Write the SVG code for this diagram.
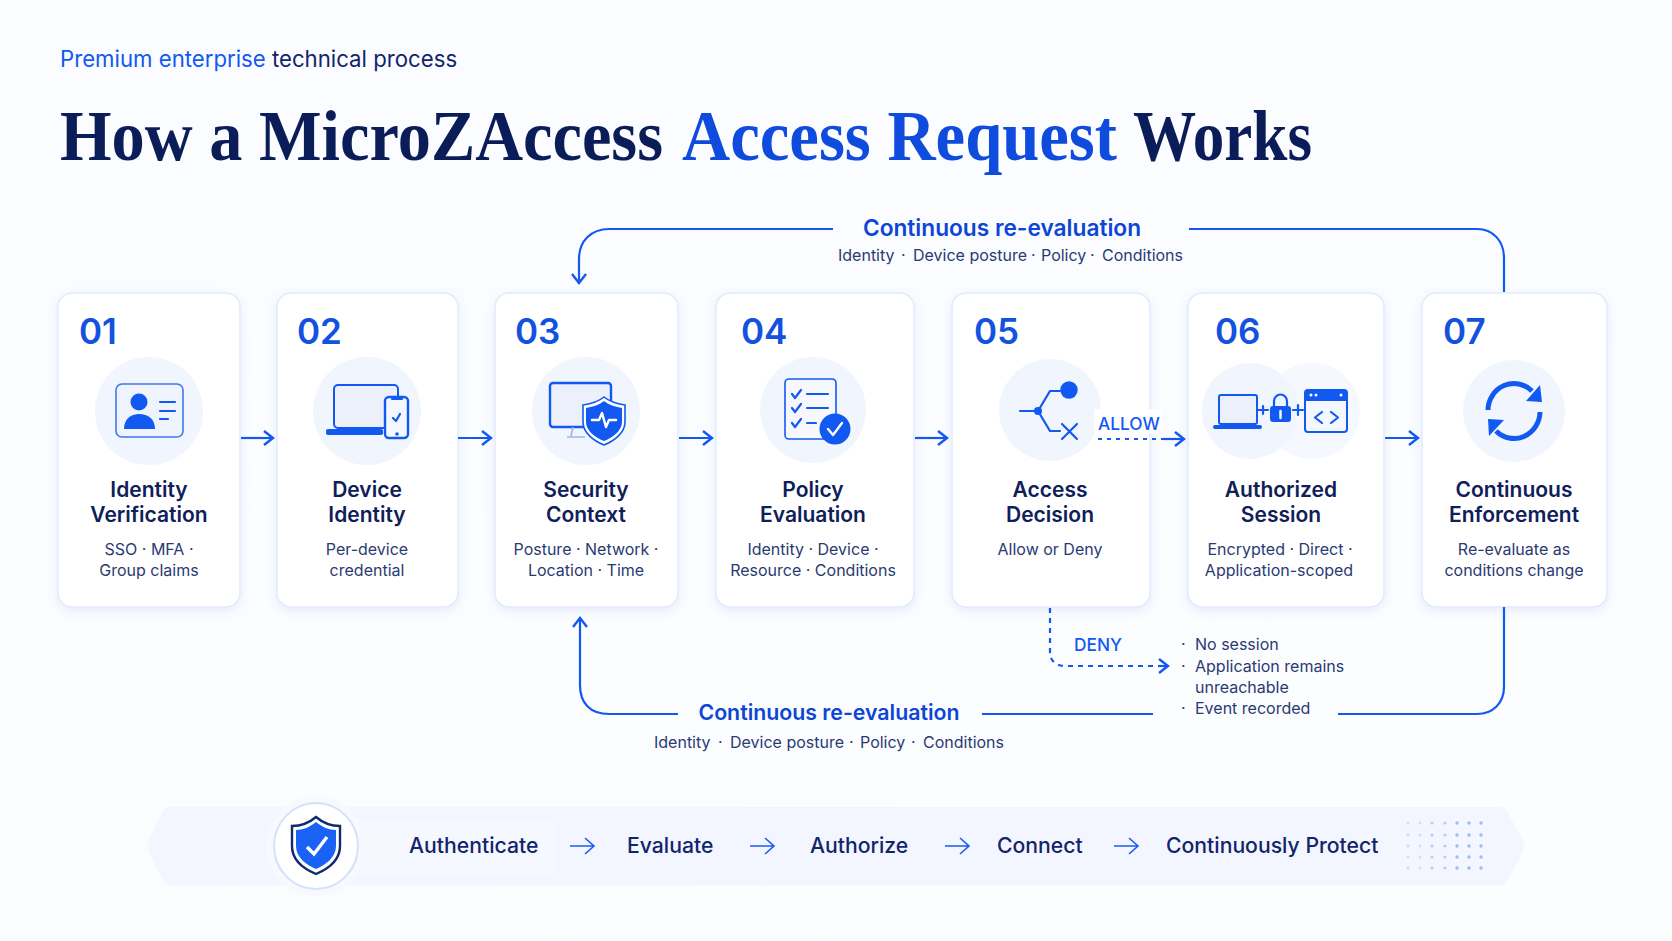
<svg xmlns="http://www.w3.org/2000/svg" width="1672" height="941" viewBox="0 0 1672 941">
<style>
text{font-family:Inter,"Noto Sans","Liberation Sans",sans-serif}
.hd{font-family:"Liberation Serif",serif;font-weight:700;font-size:72px;fill:#0b1d58}
.card{fill:#fff;stroke:#e2eafb;stroke-width:1.5;filter:url(#sh)}
.disc{fill:#f1f5fd}
.num{font-size:35px;font-weight:600;fill:#1351e0}
.ttl{font-size:21px;font-weight:600;fill:#0f2059;text-anchor:middle}
.sub{font-size:16px;fill:#2a3a72;text-anchor:middle}
.ln{fill:none;stroke:#1259f2;stroke-width:2.2}
.ic{fill:none;stroke:#1259f2;stroke-width:2.2;stroke-linecap:round;stroke-linejoin:round}
.scr{fill:#ebf0fa;stroke:#1259f2;stroke-width:2}
.f{fill:#1259f2}
.w{fill:none;stroke:#fff;stroke-width:2.4;stroke-linecap:round;stroke-linejoin:round}
.loop{font-size:22.7px;font-weight:600;fill:#0d46d6;text-anchor:middle}
.loop2{font-size:21.3px;font-weight:600;fill:#0d46d6;text-anchor:middle}
.note{font-size:16px;fill:#2a3a72}
.tag{font-size:17.3px;font-weight:500;fill:#1259f2}
.st{font-size:21.2px;font-weight:500;fill:#12246a}
.ar{fill:none;stroke:#1a5cf0;stroke-width:1.6}
</style>
<defs>
<linearGradient id="bg" x1="0" y1="0" x2="1" y2="1"><stop offset="0" stop-color="#fbfcff"/><stop offset="1" stop-color="#fcfdff"/></linearGradient>
<linearGradient id="ul" x1="0" x2="1" y1="0" y2="0"><stop offset="0" stop-color="#1259f2"/><stop offset="1" stop-color="#7fa6f7"/></linearGradient>
<filter id="sh" x="-15%" y="-10%" width="130%" height="120%"><feDropShadow dx="0" dy="3" stdDeviation="5" flood-color="#5b83e0" flood-opacity=".14"/></filter>
<marker id="ah" viewBox="0 0 14 16" refX="12" refY="8" markerWidth="14" markerHeight="16" markerUnits="userSpaceOnUse" orient="auto"><path d="M3 1 L12 8 L3 15" fill="none" stroke="#1259f2" stroke-width="2.4"/></marker>
</defs>
<rect width="1672" height="941" fill="url(#bg)"/>

<g id="header">
<text x="60" y="67" font-size="22.2" fill="#1259f2">Premium enterprise <tspan fill="#12246a">technical process</tspan></text>
<line x1="61" y1="88" x2="131" y2="88" stroke="url(#ul)" stroke-width="2.5"/>
<text class="hd" x="60" y="160" textLength="603" lengthAdjust="spacingAndGlyphs">How a MicroZAccess</text>
<text class="hd" x="682" y="160" textLength="435" lengthAdjust="spacingAndGlyphs" style="fill:#0f4bdc">Access Request</text>
<text class="hd" x="1133" y="160" textLength="179" lengthAdjust="spacingAndGlyphs">Works</text>
</g>

<g id="band">
<path d="M170 807 H1500 Q1505 807 1508 813 L1524 842 Q1526 846 1524 850 L1508 879 Q1505 885 1500 885 H170 Q165 885 162 879 L148 850 Q146 846 148 842 L162 813 Q165 807 170 807Z" fill="#f3f6fe"/>
<rect x="349" y="819" width="205" height="57" rx="6" fill="#f6f8ff"/>
<circle cx="316" cy="846" r="50" fill="#f7f9ff"/>
<ellipse cx="316" cy="846" rx="42" ry="43" fill="#fff" stroke="#d4e1fa" stroke-width="2"/>
<path d="M316 817 C323 823 332 826 340 826 V846 C340 860 328 869 316 874 C304 869 292 860 292 846 V826 C300 826 309 823 316 817Z" fill="#fff" stroke="#10296f" stroke-width="2.4"/>
<path d="M316 822 C322 827 329 830 336 830 V846 C336 857 326 865 316 869 C306 865 296 857 296 846 V830 C303 830 310 827 316 822Z" fill="#1a62f5"/>
<path d="M307 847 L314 854 L327 837" fill="none" stroke="#fff" stroke-width="3.4"/>
<text class="st" x="409" y="853">Authenticate</text>
<text class="st" x="627" y="853">Evaluate</text>
<text class="st" x="810" y="853">Authorize</text>
<text class="st" x="997" y="853">Connect</text>
<text class="st" x="1166" y="853">Continuously Protect</text>
<path class="ar" d="M570 846H594M585 838L594 846L585 854"/>
<path class="ar" d="M750 846H774M765 838L774 846L765 854"/>
<path class="ar" d="M945 846H969M960 838L969 846L960 854"/>
<path class="ar" d="M1114 846H1138M1129 838L1138 846L1129 854"/>
<g fill="#8fb0f2">
<g opacity=".35"><circle cx="1408" cy="823" r="1.5"/><circle cx="1408" cy="835" r="1.5"/><circle cx="1408" cy="846" r="1.5"/><circle cx="1408" cy="857" r="1.5"/><circle cx="1408" cy="868" r="1.5"/><circle cx="1420" cy="823" r="1.5"/><circle cx="1420" cy="835" r="1.5"/><circle cx="1420" cy="846" r="1.5"/><circle cx="1420" cy="857" r="1.5"/><circle cx="1420" cy="868" r="1.5"/></g>
<g opacity=".6"><circle cx="1432" cy="823" r="1.6"/><circle cx="1432" cy="835" r="1.6"/><circle cx="1432" cy="846" r="1.6"/><circle cx="1432" cy="857" r="1.6"/><circle cx="1432" cy="868" r="1.6"/><circle cx="1445" cy="823" r="1.6"/><circle cx="1445" cy="835" r="1.6"/><circle cx="1445" cy="846" r="1.6"/><circle cx="1445" cy="857" r="1.6"/><circle cx="1445" cy="868" r="1.6"/></g>
<g opacity=".85"><circle cx="1457" cy="823" r="1.7"/><circle cx="1457" cy="835" r="1.7"/><circle cx="1457" cy="846" r="1.7"/><circle cx="1457" cy="857" r="1.7"/><circle cx="1457" cy="868" r="1.7"/><circle cx="1469" cy="823" r="1.7"/><circle cx="1469" cy="835" r="1.7"/><circle cx="1469" cy="846" r="1.7"/><circle cx="1469" cy="857" r="1.7"/><circle cx="1469" cy="868" r="1.7"/><circle cx="1481" cy="823" r="1.7"/><circle cx="1481" cy="835" r="1.7"/><circle cx="1481" cy="846" r="1.7"/><circle cx="1481" cy="857" r="1.7"/><circle cx="1481" cy="868" r="1.7"/></g>
</g>
</g>

<g id="node-01">
<rect class="card" x="58" y="293" width="182" height="314" rx="14"/>
<text class="num" x="79" y="344">01</text>
<circle class="disc" cx="149" cy="411" r="54"/>
<rect x="116" y="384" width="67" height="53" rx="6" fill="#eef3fd" stroke="#3f78ee" stroke-width="1.6"/>
<circle class="f" cx="139" cy="402" r="8.5"/>
<path class="f" d="M124 429 C124 419 131 414 139 414 C148 414 155 419 155 429Z"/>
<path class="ic" d="M160 402H175M160 411H175M160 419H168" stroke-linecap="butt"/>
<text class="ttl" x="149" y="497">Identity</text>
<text class="ttl" x="149" y="522">Verification</text>
<text class="sub" x="149" y="555">SSO · MFA ·</text>
<text class="sub" x="149" y="576">Group claims</text>
</g>

<g id="node-02">
<rect class="card" x="277" y="293" width="181" height="314" rx="14"/>
<text class="num" x="297" y="344">02</text>
<circle class="disc" cx="367" cy="411" r="54"/>
<rect class="scr" x="334" y="385" width="64" height="43" rx="4"/>
<rect class="f" x="326" y="429" width="57" height="6" rx="2"/>
<rect x="385" y="397" width="23" height="41" rx="4" fill="#f4f7fe" stroke="#1259f2" stroke-width="2.4"/>
<path class="ic" d="M392 399H402"/>
<path class="ic" d="M393 418L396 421L400 414" stroke-width="1.6"/>
<circle class="f" cx="397" cy="434" r="1.8"/>
<text class="ttl" x="367" y="497">Device</text>
<text class="ttl" x="367" y="522">Identity</text>
<text class="sub" x="367" y="555">Per-device</text>
<text class="sub" x="367" y="576">credential</text>
</g>

<g id="node-03">
<rect class="card" x="495" y="293" width="183" height="314" rx="14"/>
<text class="num" x="515" y="344">03</text>
<circle class="disc" cx="586" cy="411" r="54"/>
<rect x="550" y="383" width="61" height="44" rx="3" fill="#ebf0fa" stroke="#1259f2" stroke-width="2.4"/>
<path d="M573 427L571 436M567 437H585" fill="none" stroke="#9db4e6" stroke-width="1.6"/>
<path d="M604 397 C610 402 618 404 625 405 V422 C625 433 614 441 604 445 C594 441 583 433 583 422 V405 C590 404 598 402 604 397Z" fill="#fff" stroke="#1259f2" stroke-width="1.6"/>
<path class="f" d="M604 401 C609 405 616 407 622 408 V422 C622 431 612 438 604 441 C596 438 586 431 586 422 V408 C592 407 599 405 604 401Z"/>
<path class="w" d="M592 420H599L602 413L606 427L609 420H616" stroke-width="1.8"/>
<text class="ttl" x="586" y="497">Security</text>
<text class="ttl" x="586" y="522">Context</text>
<text class="sub" x="586" y="555">Posture · Network ·</text>
<text class="sub" x="586" y="576">Location · Time</text>
</g>

<g id="node-04">
<rect class="card" x="716" y="293" width="198" height="314" rx="14"/>
<text class="num" x="741" y="344">04</text>
<circle class="disc" cx="813" cy="410" r="53"/>
<rect x="785" y="379" width="51" height="60" rx="4" fill="#f6f8fe" stroke="#1259f2" stroke-width="1.6"/>
<path class="ic" d="M792 394L795 398L801 390M792 408L795 412L801 404M792 423L795 427L801 419M807 394H828M807 408H828M807 423H816"/>
<circle class="f" cx="835" cy="429" r="15.5"/>
<path class="w" d="M828 429L833 435L842 423" stroke-width="3"/>
<text class="ttl" x="813" y="497">Policy</text>
<text class="ttl" x="813" y="522">Evaluation</text>
<text class="sub" x="813" y="555">Identity · Device ·</text>
<text class="sub" x="813" y="576">Resource · Conditions</text>
</g>

<g id="node-05">
<rect class="card" x="952" y="293" width="198" height="314" rx="14"/>
<text class="num" x="974" y="344">05</text>
<circle class="disc" cx="1050" cy="410" r="51"/>
<path class="ic" d="M1020 411H1038L1050 391H1060M1038 411L1050 431H1060M1062 424L1077 439M1077 424L1062 439" stroke-width="2.4"/>
<circle class="f" cx="1038" cy="411" r="4"/>
<circle class="f" cx="1069" cy="390" r="8.7"/>
<text class="ttl" x="1050" y="497">Access</text>
<text class="ttl" x="1050" y="522">Decision</text>
<text class="sub" x="1050" y="555">Allow or Deny</text>
</g>

<g id="node-06">
<rect class="card" x="1188" y="293" width="196" height="314" rx="14"/>
<text class="num" x="1215" y="344">06</text>
<circle class="disc" cx="1250" cy="411" r="48"/>
<circle class="disc" cx="1312" cy="411" r="48" opacity=".7"/>
<rect class="scr" x="1219" y="395" width="38" height="29" rx="2"/>
<rect class="f" x="1213" y="425" width="49" height="4" rx="2"/>
<path class="ic" d="M1257 410H1268M1263 406V414M1293 410H1303M1298 405V415" stroke-width="2"/>
<path class="ic" d="M1274 406V401A6.500 6.500 0 0 1 1287 401V406" stroke-width="2"/>
<rect class="f" x="1270" y="406" width="21" height="16" rx="3"/>
<path class="w" d="M1280.500 411V418" stroke-width="2.4"/>
<rect x="1305" y="390" width="42" height="42" rx="3" fill="#f4f7fe" stroke="#1259f2" stroke-width="2"/>
<path class="f" d="M1305 393a3 3 0 0 1 3-3h36a3 3 0 0 1 3 3v8h-42Z"/>
<circle cx="1311" cy="395" r="1.500" fill="#fff"/><circle cx="1316" cy="395" r="1.500" fill="#fff"/><circle cx="1341" cy="395" r="1.500" fill="#fff"/>
<path class="ic" d="M1322 412L1315 417.500L1322 423M1331 412L1338 417.500L1331 423"/>
<text class="ttl" x="1281" y="497">Authorized</text>
<text class="ttl" x="1281" y="522">Session</text>
<text class="sub" x="1280" y="555">Encrypted · Direct ·</text>
<text class="sub" x="1279" y="576">Application-scoped</text>
</g>

<g id="node-07">
<rect class="card" x="1422" y="293" width="185" height="314" rx="14"/>
<text class="num" x="1443" y="344">07</text>
<circle class="disc" cx="1514" cy="411" r="51"/>
<path fill="none" stroke="#1259f2" stroke-width="5" d="M1488 410A26 27 0 0 1 1532 391"/>
<path class="f" d="M1540 385L1542 402L1526 401Z"/>
<path fill="none" stroke="#1259f2" stroke-width="5" d="M1540 412A26 27 0 0 1 1496 431"/>
<path class="f" d="M1488 419L1504 420L1489 436Z"/>
<text class="ttl" x="1514" y="497">Continuous</text>
<text class="ttl" x="1514" y="522">Enforcement</text>
<text class="sub" x="1514" y="555">Re-evaluate as</text>
<text class="sub" x="1514" y="576">conditions change</text>
</g>

<g id="connectors">
<path class="ln" marker-end="url(#ah)" d="M241 438H273"/>
<path class="ln" marker-end="url(#ah)" d="M458 438H491"/>
<path class="ln" marker-end="url(#ah)" d="M679 438H712"/>
<path class="ln" marker-end="url(#ah)" d="M915 438H947"/>
<path class="ln" marker-end="url(#ah)" d="M1385 438H1418"/>
<rect x="1094" y="409" width="68" height="24" fill="#fff" opacity=".95"/>
<path class="ln" stroke-dasharray="4 5" d="M1098 439H1165"/>
<path class="ln" marker-end="url(#ah)" d="M1163 439H1184"/>
<path class="ln" marker-end="url(#ah)" d="M833 229H609C591 229 579 241 579 259V283"/>
<path class="ln" d="M1189 229H1477C1493 229 1504 241 1504 258V292"/>
<path class="ln" marker-end="url(#ah)" d="M678 714H609C590 714 580 703 580 685V618"/>
<path class="ln" d="M982 714H1153M1338 714H1477C1493 714 1504 703 1504 687V607"/>
<path class="ln" stroke-dasharray="5 5" d="M1050 608V652C1050 661 1056 666 1066 666H1160"/>
<path class="ln" marker-end="url(#ah)" d="M1158 666H1168"/>
</g>

<g id="labels">
<text class="tag" x="1098" y="430">ALLOW</text>
<text class="tag" x="1074" y="651">DENY</text>
<text class="loop" x="1002" y="236">Continuous re-evaluation</text>
<text class="note" y="261"><tspan x="838">Identity</tspan><tspan x="901">·</tspan><tspan x="913">Device posture</tspan><tspan x="1031">·</tspan><tspan x="1041">Policy</tspan><tspan x="1090">·</tspan><tspan x="1102">Conditions</tspan></text>
<text class="loop2" x="829" y="720">Continuous re-evaluation</text>
<text class="note" y="748"><tspan x="654">Identity</tspan><tspan x="718">·</tspan><tspan x="730">Device posture</tspan><tspan x="849">·</tspan><tspan x="860">Policy</tspan><tspan x="911">·</tspan><tspan x="923">Conditions</tspan></text>
<text class="note" x="1181" y="650">·</text><text class="note" x="1195" y="650">No session</text>
<text class="note" x="1181" y="672">·</text><text class="note" x="1195" y="672">Application remains</text>
<text class="note" x="1195" y="693">unreachable</text>
<text class="note" x="1181" y="714">·</text><text class="note" x="1195" y="714">Event recorded</text>
</g>
</svg>
